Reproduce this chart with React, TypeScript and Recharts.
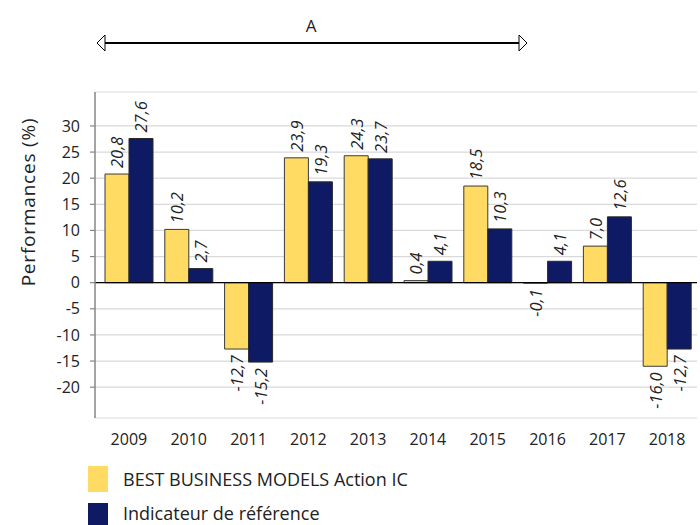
import React from "react";
import {
  BarChart,
  Bar,
  XAxis,
  YAxis,
  CartesianGrid,
  ReferenceLine,
  LabelList,
} from "recharts";

const YEARS = ["2009", "2010", "2011", "2012", "2013", "2014", "2015", "2016", "2017", "2018"];
const FUND = [20.8, 10.2, -12.7, 23.9, 24.3, 0.4, 18.5, -0.1, 7.0, -16.0];
const BENCH = [27.6, 2.7, -15.2, 19.3, 23.7, 4.1, 10.3, 4.1, 12.6, -12.7];
const Y_TICKS = [-20, -15, -10, -5, 0, 5, 10, 15, 20, 25, 30];

const FUND_NAME = "BEST BUSINESS MODELS Action IC";
const BENCH_NAME = "Indicateur de référence";
const PERIOD_LABEL = "A";

const YELLOW = "#FFDB63";
const NAVY = "#0E1A63";
const FONT = "'Open Sans', sans-serif";

if (typeof document !== "undefined") document.body.style.margin = "0";

const data = YEARS.map((year, i) => ({ year, fund: FUND[i], bench: BENCH[i] }));

const fmt = (v: number) => v.toFixed(1).replace(".", ",");

function ValueLabel(props: any) {
  const { x, y, width, height, value } = props;
  const cx = x + width / 2;
  const top = Math.min(y, y + height);
  const bottom = Math.max(y, y + height);
  const pos = value >= 0;
  const ay = pos ? top - 6 : bottom + 6;
  return (
    <text
      x={cx}
      y={ay}
      transform={`rotate(-90 ${cx} ${ay})`}
      textAnchor={pos ? "start" : "end"}
      dominantBaseline="central"
      fontStyle="italic"
      fontSize={16.5}
      fill="#222"
      fontFamily={FONT}
    >
      {fmt(value)}
    </text>
  );
}

function YTitle() {
  return (
    <text
      x={28}
      y={202}
      transform="rotate(-90 28 202)"
      textAnchor="middle"
      dominantBaseline="central"
      fontSize={19}
      letterSpacing={0.8}
      fill="#222"
      fontFamily={FONT}
    >
      Performances (%)
    </text>
  );
}

// legend rows: swatch box + label, drawn outside the chart so the plot keeps its size
const legendItems = [
  { name: FUND_NAME, color: YELLOW, top: 466, textTop: 469 },
  { name: BENCH_NAME, color: NAVY, top: 503, textTop: 503 },
];

export default function App() {
  return (
    <div style={{ position: "relative", width: 700, height: 525, background: "#fff", fontFamily: FONT, overflow: "hidden" }}>
      <BarChart
        width={700}
        height={525}
        data={data}
        margin={{ top: 92, right: 3, bottom: 77, left: 35 }}
        barGap={0}
      >
        <CartesianGrid vertical={false} stroke="#D9D9D9" strokeWidth={1.2} />
        <XAxis
          dataKey="year"
          axisLine={false}
          tickLine={false}
          tickMargin={10}
          padding={{ left: 4, right: 0 }}
          tick={{ fontSize: 16, fill: "#222", fontFamily: FONT }}
          interval={0}
        />
        <YAxis
          width={60}
          domain={[-25.9, 36.5]}
          ticks={Y_TICKS}
          allowDataOverflow
          axisLine={{ stroke: "#868686", strokeWidth: 1.5 }}
          tickLine={{ stroke: "#868686", strokeWidth: 1.2 }}
          tickSize={5}
          tickMargin={10}
          tick={{ fontSize: 16, fill: "#222", fontFamily: FONT }}
          label={{ content: () => <YTitle /> }}
        />
        <ReferenceLine y={0} stroke="#000" strokeWidth={1.2} />
        <Bar dataKey="fund" name={FUND_NAME} fill={YELLOW} stroke="#3a3a3a" strokeWidth={1} barSize={24} isAnimationActive={false}>
          <LabelList dataKey="fund" content={ValueLabel} />
        </Bar>
        <Bar dataKey="bench" name={BENCH_NAME} fill={NAVY} stroke="#2a2a2a" strokeWidth={1} barSize={24} isAnimationActive={false}>
          <LabelList dataKey="bench" content={ValueLabel} />
        </Bar>
      </BarChart>

      {/* period arrow */}
      <svg width={700} height={80} style={{ position: "absolute", left: 0, top: 0, pointerEvents: "none" }}>
        <line x1={105} y1={43} x2={519} y2={43} stroke="#000" strokeWidth={2} />
        <polygon points="97,43 105,35 105,51" fill="#fff" stroke="#000" strokeWidth={1} />
        <polygon points="527,43 519,35 519,51" fill="#fff" stroke="#000" strokeWidth={1} />
        <text x={311} y={25} textAnchor="middle" dominantBaseline="central" fontSize={17} fill="#222" fontFamily={FONT}>
          {PERIOD_LABEL}
        </text>
      </svg>

      {legendItems.map((item) => (
        <React.Fragment key={item.name}>
          <div style={{ position: "absolute", left: 88, top: item.top, width: 20, height: 26, background: item.color }} />
          <div style={{ position: "absolute", left: 123, top: item.textTop, fontSize: 18, lineHeight: "20px", color: "#222", fontFamily: FONT, whiteSpace: "nowrap" }}>
            {item.name}
          </div>
        </React.Fragment>
      ))}
    </div>
  );
}
